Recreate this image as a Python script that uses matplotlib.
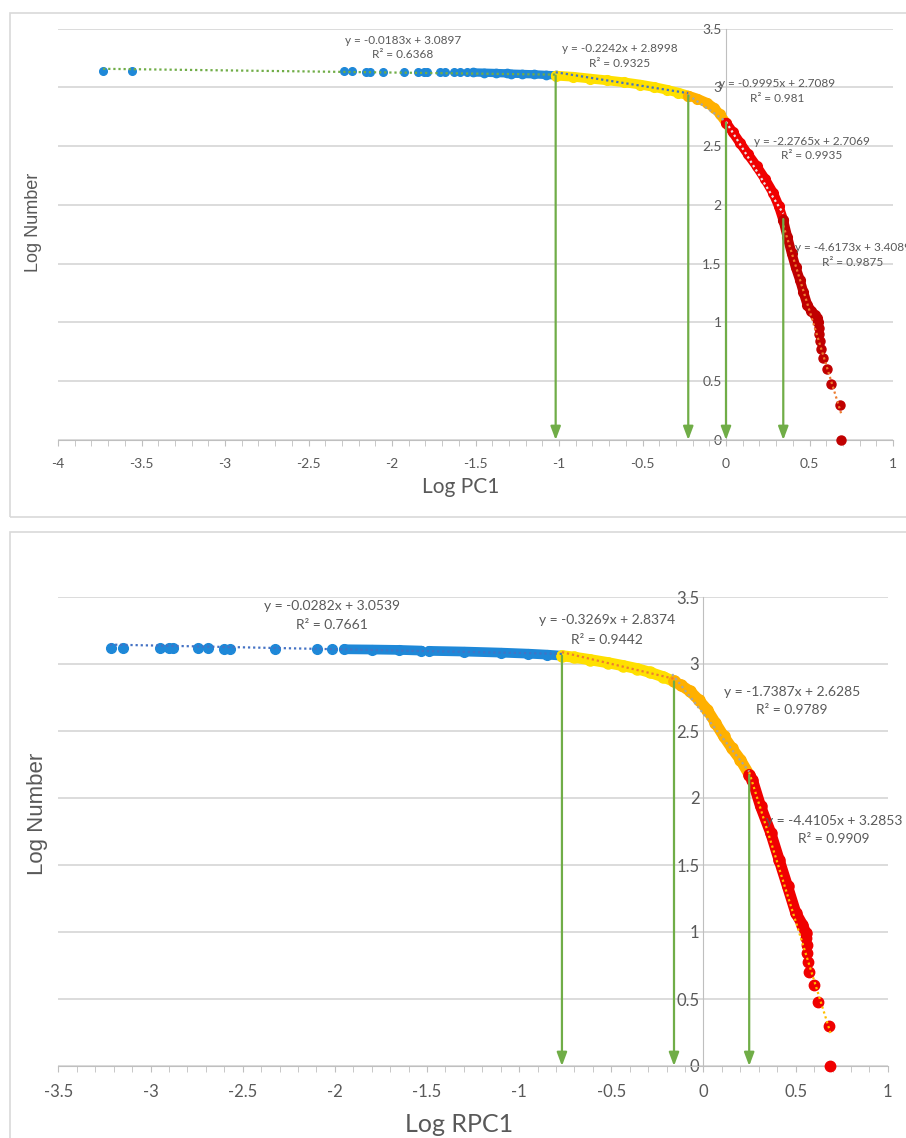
import matplotlib
matplotlib.use('Agg')
import matplotlib.pyplot as plt
from matplotlib.patches import Rectangle
from matplotlib.ticker import MultipleLocator, FuncFormatter

plt.rcParams['axes.unicode_minus'] = False
plt.rcParams['font.family'] = ['Lato', 'DejaVu Sans']

# ---------------- data: top panel (Log PC1) ----------------
a_blue_sparse_x = [-3.73, -3.555, -2.288, -2.24, -2.156, -2.132, -2.052, -1.926, -1.843,
                   -1.81, -1.79, -1.71, -1.68, -1.63, -1.593, -1.552]
a_blue_sparse_y = [3.137, 3.137, 3.136, 3.136, 3.135, 3.135, 3.135, 3.134, 3.133,
                   3.133, 3.133, 3.132, 3.131, 3.130, 3.129, 3.128]
a_blue_dense_x = [-1.517, -1.45, -1.38, -1.31, -1.29, -1.22, -1.15, -1.08, -1.02]
a_blue_dense_y = [3.127, 3.125, 3.122, 3.119, 3.117, 3.114, 3.111, 3.106, 3.102]
a_yellow_x = [-1.02, -0.914, -0.815, -0.713, -0.61, -0.515, -0.43, -0.355, -0.285, -0.226]
a_yellow_y = [3.10, 3.09, 3.075, 3.06, 3.043, 3.024, 3.003, 2.98, 2.955, 2.93]
a_orange_x = [-0.226, -0.173, -0.116, -0.07, -0.036, 0.0]
a_orange_y = [2.93, 2.905, 2.87, 2.825, 2.77, 2.70]
a_red_x = [0.0, 0.04, 0.083, 0.132, 0.183, 0.234, 0.283, 0.316, 0.343]
a_red_y = [2.70, 2.62, 2.53, 2.43, 2.33, 2.22, 2.10, 1.99, 1.87]
a_dred_x = [0.343, 0.367, 0.393, 0.417, 0.443, 0.463, 0.487, 0.509, 0.532, 0.545, 0.553]
a_dred_y = [1.87, 1.73, 1.59, 1.47, 1.36, 1.26, 1.15, 1.10, 1.065, 1.04, 1.0]
a_tail_x = [0.556, 0.558, 0.561, 0.566, 0.579, 0.603, 0.629, 0.683, 0.690]
a_tail_y = [0.954, 0.903, 0.845, 0.778, 0.699, 0.602, 0.477, 0.301, 0.0]

a_slope = [-0.0183, -0.2242, -0.9995, -2.2765, -4.6173]
a_icpt = [3.0897, 2.8998, 2.7089, 2.7069, 3.4089]
a_r2 = [0.6368, 0.9325, 0.981, 0.9935, 0.9875]
a_fit_x0 = [-3.73, -1.02, -0.226, 0.0, 0.343]
a_fit_x1 = [-1.02, -0.226, 0.0, 0.343, 0.69]
a_arrow_x = [-1.02, -0.226, 0.0, 0.343]
a_arrow_y = [3.10, 2.93, 2.70, 1.88]

# ---------------- data: bottom panel (Log RPC1) ----------------
b_blue_sparse_x = [-3.215, -3.152, -2.948, -2.90, -2.876, -2.743, -2.69, -2.60, -2.57,
                   -2.324, -2.097, -2.018]
b_blue_sparse_y = [3.121, 3.12, 3.12, 3.118, 3.117, 3.117, 3.116, 3.115, 3.115,
                   3.113, 3.112, 3.111]
b_blue_dense1_x = [-1.95, -1.80, -1.65, -1.53]
b_blue_dense1_y = [3.11, 3.108, 3.105, 3.10]
b_blue_dense2_x = [-1.49, -1.30, -1.10, -0.95, -0.85, -0.768]
b_blue_dense2_y = [3.098, 3.093, 3.085, 3.077, 3.07, 3.062]
b_yellow_x = [-0.768, -0.70, -0.615, -0.52, -0.434, -0.36, -0.289, -0.22, -0.16]
b_yellow_y = [3.062, 3.05, 3.032, 3.01, 2.987, 2.965, 2.937, 2.905, 2.870]
b_orange_x = [-0.16, -0.12, -0.071, -0.025, 0.02, 0.065, 0.11, 0.155, 0.20, 0.248]
b_orange_y = [2.870, 2.84, 2.795, 2.73, 2.659, 2.56, 2.46, 2.37, 2.286, 2.174]
b_red_x = [0.248, 0.265, 0.31, 0.365, 0.41, 0.456, 0.501, 0.537, 0.555]
b_red_y = [2.174, 2.137, 1.937, 1.739, 1.54, 1.34, 1.142, 1.054, 0.992]
b_tail_x = [0.558, 0.56, 0.564, 0.568, 0.574, 0.60, 0.624, 0.679, 0.686]
b_tail_y = [0.954, 0.903, 0.845, 0.778, 0.699, 0.602, 0.477, 0.301, 0.0]

b_slope = [-0.0282, -0.3269, -1.7387, -4.4105]
b_icpt = [3.0539, 2.8374, 2.6285, 3.2853]
b_r2 = [0.7661, 0.9442, 0.9789, 0.9909]
b_fit_x0 = [-3.22, -0.768, -0.17, 0.248]
b_fit_x1 = [-0.768, -0.16, 0.248, 0.69]
b_arrow_x = [-0.768, -0.16, 0.248]
b_arrow_y = [3.062, 2.87, 2.17]

# ---------------- styling constants ----------------
BLUE, YELLOW, ORANGE, RED, DRED = '#1E88D8', '#FFE000', '#FFB000', '#F00000', '#C00000'
GREEN = '#70AD47'
TXT = '#595959'
W, H = 906, 1138

fig = plt.figure(figsize=(W / 100, H / 100), dpi=100)


def rect(x0, x1, y0, y1):
    return [x0 / W, 1 - y1 / H, (x1 - x0) / W, (y1 - y0) / H]


fmt = FuncFormatter(lambda v, p: f'{v:g}')


def style(ax, xmin, fs):
    ax.set_xlim(xmin, 1)
    ax.set_ylim(0, 3.5)
    ax.patch.set_alpha(0)
    for s in ['top', 'right']:
        ax.spines[s].set_visible(False)
    ax.spines['left'].set_position(('data', 0))
    ax.spines['left'].set_color('#BFBFBF')
    ax.spines['bottom'].set_color('#BFBFBF')
    ax.xaxis.set_major_locator(MultipleLocator(0.5))
    ax.xaxis.set_minor_locator(MultipleLocator(0.1))
    ax.yaxis.set_major_locator(MultipleLocator(0.5))
    ax.xaxis.set_major_formatter(fmt)
    ax.yaxis.set_major_formatter(fmt)
    ax.tick_params(axis='x', which='both', direction='out', length=4, color='#BFBFBF',
                   labelsize=fs, labelcolor=TXT, pad=9)
    ax.tick_params(axis='y', length=0, labelsize=fs, labelcolor=TXT, pad=3)
    ax.grid(axis='y', color='#D9D9D9', lw=1.3)
    ax.set_axisbelow(True)


def band(ax, xs, ys, color, lw, ms):
    ax.plot(xs, ys, color=color, lw=lw, solid_capstyle='round', solid_joinstyle='round', zorder=3)
    ax.plot(xs, ys, 'o', ls='none', color=color, ms=ms, zorder=3, clip_on=False)


def dots(ax, xs, ys, color, ms):
    ax.plot(xs, ys, 'o', ls='none', color=color, ms=ms, zorder=3, clip_on=False)


def trends(ax, slopes, icpts, x0s, x1s, colors):
    for s, b, x0, x1, c in zip(slopes, icpts, x0s, x1s, colors):
        ax.plot([x0, x1], [s * x0 + b, s * x1 + b], color=c, lw=1.6,
                ls=(0, (1, 1.3)), zorder=4)


def arrows(ax, xs, ys):
    for x, y in zip(xs, ys):
        ax.annotate('', xy=(x, 0), xytext=(x, y),
                    arrowprops=dict(arrowstyle='-|>,head_width=0.3,head_length=0.8',
                                    color=GREEN, lw=1.6, shrinkA=0, shrinkB=0), zorder=5)


# ---------------- frames ----------------
fig.add_artist(Rectangle((10 / W, 1 - 517 / H), (W) / W, (517 - 13) / H,
                         transform=fig.transFigure, fill=False, ec='#D9D9D9', lw=1.2))
fig.add_artist(Rectangle((10 / W, 1 - 1150 / H), (W) / W, (1150 - 532) / H,
                         transform=fig.transFigure, fill=False, ec='#D9D9D9', lw=1.2))

# ---------------- top panel ----------------
ax1 = fig.add_axes(rect(58, 893, 28.6, 440))
style(ax1, -4, 10)
dots(ax1, a_blue_sparse_x, a_blue_sparse_y, BLUE, 5.5)
band(ax1, a_blue_dense_x, a_blue_dense_y, BLUE, 6, 6)
band(ax1, a_yellow_x, a_yellow_y, YELLOW, 7, 7)
band(ax1, a_orange_x, a_orange_y, ORANGE, 7, 7)
band(ax1, a_red_x, a_red_y, RED, 7, 7)
band(ax1, a_dred_x, a_dred_y, DRED, 7, 7)
dots(ax1, a_tail_x, a_tail_y, DRED, 6.5)
trends(ax1, a_slope, a_icpt, a_fit_x0, a_fit_x1,
       ['#70AD47', '#4472C4', '#A5A5A5', '#E8E8E8', '#ED7D31'])
arrows(ax1, a_arrow_x, a_arrow_y)

a_txt_x = [-1.934, -0.635, 0.305, 0.515, 0.76]
a_txt_y = [3.40, 3.334, 3.036, 2.539, 1.64]
a_r2_y = [3.277, 3.206, 2.902, 2.417, 1.509]
for x, y, yr, s, b, r in zip(a_txt_x, a_txt_y, a_r2_y, a_slope, a_icpt, a_r2):
    ax1.text(x, y, f'y = {s:.4f}x + {b:.4f}', ha='center', va='center', fontsize=8.5,
             color=TXT, zorder=6, clip_on=False)
    ax1.text(x, yr, f'R² = {r:g}', ha='center', va='center', fontsize=8.5,
             color=TXT, zorder=6, clip_on=False)

fig.text(33 / W, 1 - 222 / H, 'Log Number', rotation=90, ha='center', va='center',
         fontsize=13, color=TXT, family=['Liberation Sans', 'DejaVu Sans'])
fig.text(461 / W, 1 - 487 / H, 'Log PC1', ha='center', va='center', fontsize=15, color=TXT)

# ---------------- bottom panel ----------------
ax2 = fig.add_axes(rect(58.4, 887.8, 597, 1066))
style(ax2, -3.5, 12)
dots(ax2, b_blue_sparse_x, b_blue_sparse_y, BLUE, 7)
band(ax2, b_blue_dense1_x, b_blue_dense1_y, BLUE, 7, 7)
band(ax2, b_blue_dense2_x, b_blue_dense2_y, BLUE, 7, 7)
band(ax2, b_yellow_x, b_yellow_y, YELLOW, 8, 8)
band(ax2, b_orange_x, b_orange_y, ORANGE, 8, 8)
band(ax2, b_red_x, b_red_y, RED, 8, 8)
dots(ax2, b_tail_x, b_tail_y, RED, 7.5)
trends(ax2, b_slope, b_icpt, b_fit_x0, b_fit_x1,
       ['#4472C4', '#ED7D31', '#A5A5A5', '#FFC000'])
arrows(ax2, b_arrow_x, b_arrow_y)

b_txt_x = [-2.015, -0.524, 0.48, 0.708]
b_txt_y = [3.436, 3.326, 2.791, 1.83]
b_r2_y = [3.291, 3.181, 2.655, 1.692]
for x, y, yr, s, b, r in zip(b_txt_x, b_txt_y, b_r2_y, b_slope, b_icpt, b_r2):
    ax2.text(x, y, f'y = {s:.4f}x + {b:.4f}', ha='center', va='center', fontsize=10,
             color=TXT, zorder=6, clip_on=False)
    ax2.text(x, yr, f'R² = {r:g}', ha='center', va='center', fontsize=10,
             color=TXT, zorder=6, clip_on=False)

fig.text(37 / W, 1 - 814 / H, 'Log Number', rotation=90, ha='center', va='center',
         fontsize=16, color=TXT, family=['Liberation Sans', 'DejaVu Sans'])
fig.text(459 / W, 1 - 1124 / H, 'Log RPC1', ha='center', va='center', fontsize=18, color=TXT)

fig.savefig('out.png', dpi=100, facecolor='white')
